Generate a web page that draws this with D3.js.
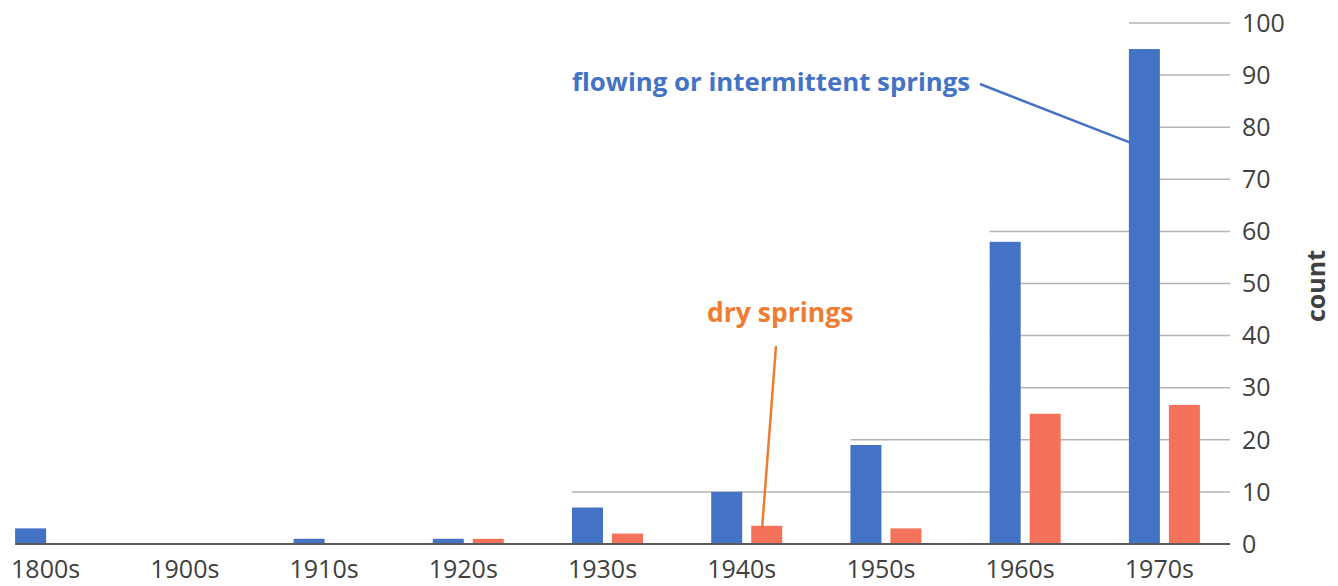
<!DOCTYPE html>
<html>
<head>
<meta charset="utf-8">
<script src="https://cdn.jsdelivr.net/npm/d3@7"></script>
<style>
  body { margin: 0; background: #fff; }
  svg { display: block; font-family: "Open Sans", "Noto Sans", sans-serif; }
</style>
</head>
<body>
<svg id="chart" width="1338" height="586"></svg>
<script>
// data
var decades = ["1800s", "1900s", "1910s", "1920s", "1930s", "1940s", "1950s", "1960s", "1970s"];
var series = ["flowing", "dry"];
var flowing = [3, 0, 1, 1, 7, 10, 19, 58, 95];
var dry = [0, 0, 0, 1, 2, 3.5, 3, 25, 26.7];
var y_ticks = [0, 10, 20, 30, 40, 50, 60, 70, 80, 90, 100];

var colors = { "flowing": "#4472c4", "dry": "#f4725a" };

var width = 1338, height = 586;
var svg = d3.select("#chart");

var x = d3.scaleBand()
    .domain(decades)
    .range([-19, 1234])
    .paddingInner(0.49)
    .paddingOuter(0.245);

var x_inner = d3.scaleBand()
    .domain(series)
    .range([0, x.bandwidth()])
    .paddingInner(0.225);

var y = d3.scaleLinear()
    .domain([0, 100])
    .range([544, 23]);

var plot_right = 1230;

var rows = decades.map(function(d, i) {
    return { "decade": d, "flowing": flowing[i], "dry": dry[i] };
});

// gridlines only start at the first group that reaches them (rounded)
var grid = svg.append("g").attr("class", "grid");
y_ticks.filter(function(t) { return t > 0; }).forEach(function(t) {
    var first = rows.find(function(r) {
        return Math.round(Math.max(r.flowing, r.dry) / 10) * 10 >= t;
    });
    if (!first) return;
    grid.append("line")
        .attr("x1", x(first.decade))
        .attr("x2", plot_right)
        .attr("y1", y(t))
        .attr("y2", y(t))
        .attr("stroke", "#b4b4b4")
        .attr("stroke-width", 1.5);
});

// bars
var groups = svg.append("g")
    .selectAll("g")
    .data(rows)
    .enter().append("g")
    .attr("transform", function(d) { return "translate(" + x(d.decade) + ",0)"; });

groups.selectAll("rect")
    .data(function(d) { return series.map(function(s) { return { "key": s, "value": d[s] }; }); })
    .enter().append("rect")
    .filter(function(d) { return d.value > 0; })
    .attr("x", function(d) { return x_inner(d.key); })
    .attr("width", x_inner.bandwidth())
    .attr("y", function(d) { return y(d.value); })
    .attr("height", function(d) { return y(0) - y(d.value); })
    .attr("fill", function(d) { return colors[d.key]; });

// baseline
svg.append("line")
    .attr("x1", x(decades[0]))
    .attr("x2", plot_right)
    .attr("y1", y(0))
    .attr("y2", y(0))
    .attr("stroke", "#595959")
    .attr("stroke-width", 2);

// x labels
svg.append("g")
    .selectAll("text")
    .data(decades)
    .enter().append("text")
    .attr("x", function(d) { return x(d) + x.bandwidth() / 2 - 5; })
    .attr("y", 578)
    .attr("text-anchor", "middle")
    .attr("font-size", 25)
    .attr("fill", "#404040")
    .text(function(d) { return d; });

// y labels on the right
svg.append("g")
    .selectAll("text")
    .data(y_ticks)
    .enter().append("text")
    .attr("x", 1242)
    .attr("y", function(d) { return y(d); })
    .attr("dy", "0.35em")
    .attr("font-size", 25)
    .attr("fill", "#404040")
    .text(function(d) { return d; });

svg.append("text")
    .attr("transform", "translate(1325,286) rotate(-90)")
    .attr("text-anchor", "middle")
    .attr("font-size", 25)
    .attr("font-weight", "bold")
    .attr("fill", "#404040")
    .text("count");

// annotations with leader lines
var notes = [
    { "text": "flowing or intermittent springs", "key": "flowing", "decade": "1970s", "at": 77,
      "tx": 572, "ty": 91, "lx": 980, "ly": 84, "dx": 2, "size": 25.8 },
    { "text": "dry springs", "key": "dry", "decade": "1940s", "at": 3.3,
      "tx": 707, "ty": 322, "lx": 776, "ly": 346, "dx": 11, "size": 26.5 }
];

notes.forEach(function(n) {
    var c = n.key === "dry" ? "#ed7d31" : colors[n.key];
    svg.append("line")
        .attr("x1", n.lx)
        .attr("y1", n.ly)
        .attr("x2", x(n.decade) + x_inner(n.key) + n.dx)
        .attr("y2", y(n.at))
        .attr("stroke", c)
        .attr("stroke-width", 2.5);
    svg.append("text")
        .attr("x", n.tx)
        .attr("y", n.ty)
        .attr("font-size", n.size)
        .attr("font-weight", "bold")
        .attr("fill", c)
        .text(n.text);
});
</script>
</body>
</html>
